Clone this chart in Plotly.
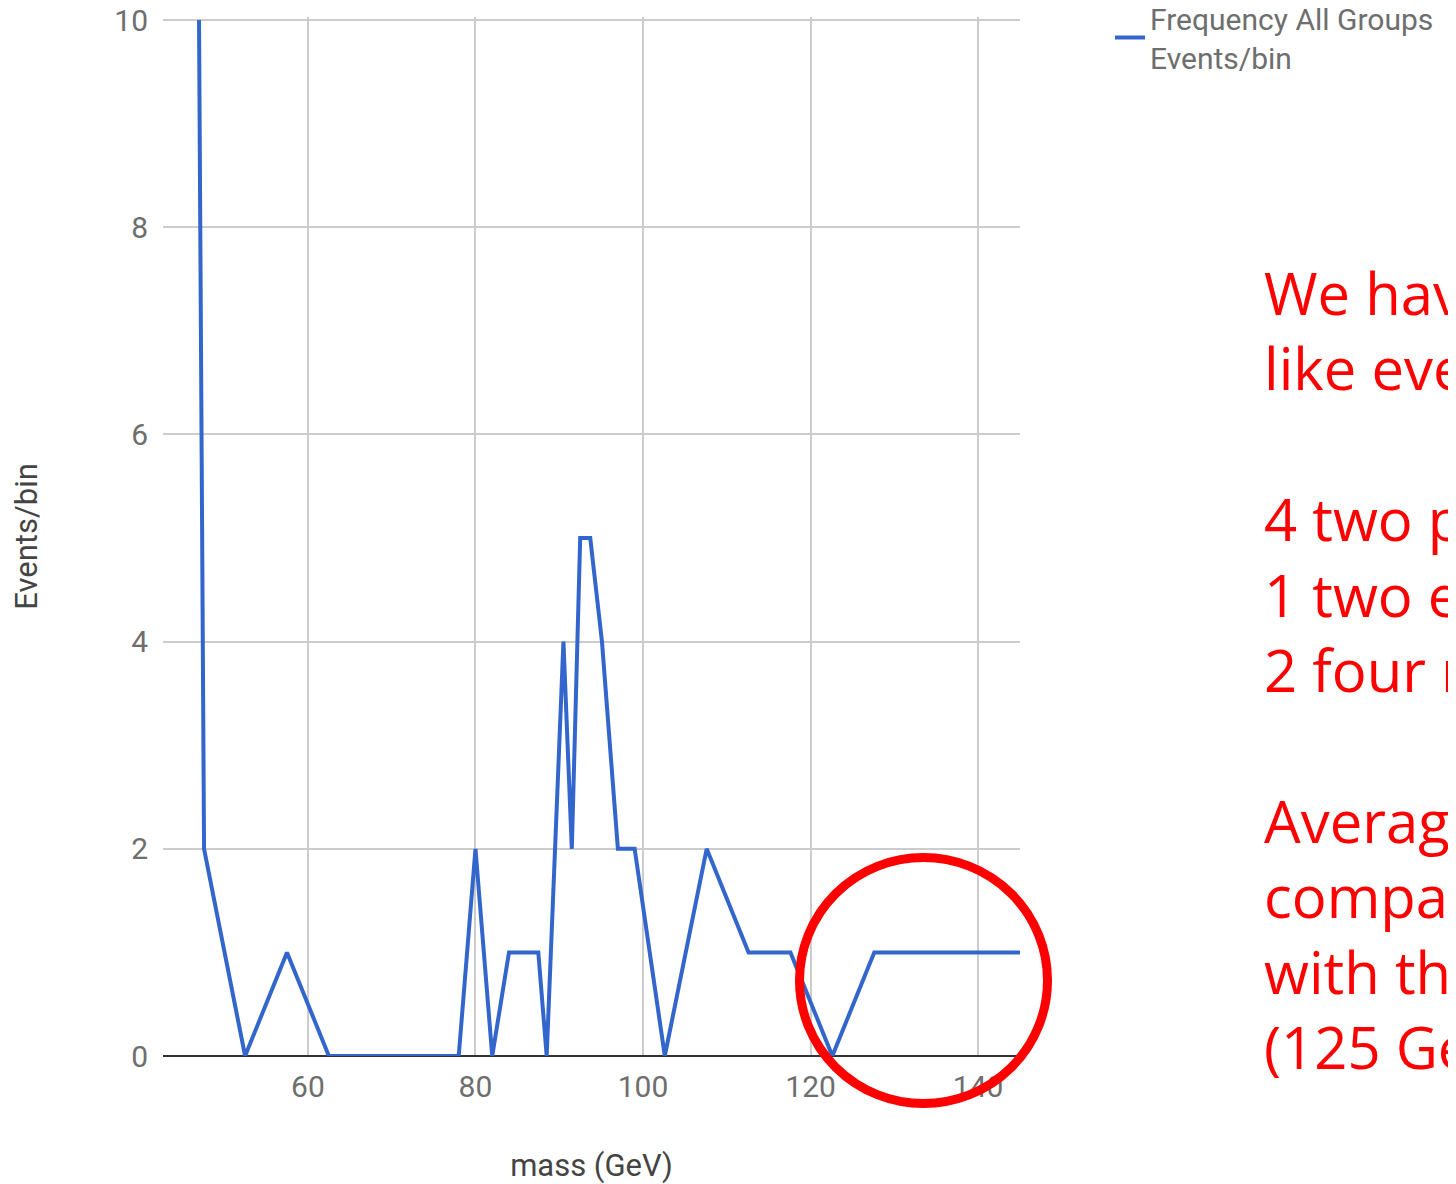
import plotly.graph_objects as go

# Data
mass_gev = [47.0, 47.6, 52.5, 57.5, 62.5, 78.0, 80.0, 82.0, 84.0, 87.5, 88.5,
            90.5, 91.5, 92.5, 93.7, 95.1, 97.0, 99.0, 102.6, 107.6, 112.6,
            117.6, 122.6, 127.6, 145.0]
events_per_bin = [10, 2, 0, 1, 0, 0, 2, 0, 1, 1, 0,
                  4, 2, 5, 5, 4, 2, 2, 0, 2, 1,
                  1, 0, 1, 1]
x_ticks = [60, 80, 100, 120, 140]
y_ticks = [0, 2, 4, 6, 8, 10]

series_name = "Frequency All Groups<br>Events/bin"
note_lines = [
    "We have 7 Higgs-",
    "like events:",
    " ",
    "4 two photons",
    "1 two electrons two muons",
    "2 four muons",
    " ",
    "Average mass",
    "compatible",
    "with the Higgs",
    "(125 GeV)",
]

OFF = 8  # page body margin
W, H = 1456 - OFF, 1184 - OFF
# plot area in screen pixels: x 163..1020, y 17..1056 (value 10 sits at y=20)
L, T = 163 - OFF, 17 - OFF
R = W - (1020 - OFF)
B = H - (1056 - OFF)
pw, ph = W - L - R, H - T - B
y_top = 10 * ph / 1036.0

def px_x(sx):
    return (sx - OFF - L) / pw

def px_y(sy):
    return (H - B - (sy - OFF)) / ph

fig = go.Figure()
fig.add_trace(go.Scatter(
    x=mass_gev, y=events_per_bin, mode="lines", name=series_name,
    line=dict(color="#3366cc", width=4), cliponaxis=False,
))

fig.update_layout(
    width=W, height=H,
    margin=dict(l=L, r=R, t=T, b=B, autoexpand=False),
    paper_bgcolor="white", plot_bgcolor="white",
    font=dict(family="Roboto", size=30, color="#666666"),
    showlegend=True,
    legend=dict(
        x=px_x(1110), y=px_y(-8), xanchor="left", yanchor="top",
        font=dict(family="Roboto", size=30, color="#6e6e6e"),
        bgcolor="rgba(0,0,0,0)", itemwidth=30, tracegroupgap=0,
    ),
    xaxis=dict(
        range=[42.7, 145.0], tickvals=x_ticks, ticks="",
        showgrid=True, gridcolor="#cccccc", gridwidth=2,
        zeroline=False, showline=False, ticklabelstandoff=10,
        ticklabeloverflow="allow",
        tickfont=dict(size=30, color="#6e6e6e"),
        title=dict(text="mass (GeV)", font=dict(size=31, color="#444444"), standoff=52),
    ),
    yaxis=dict(
        range=[0, y_top], tickvals=y_ticks, ticks="",
        showgrid=True, gridcolor="#cccccc", gridwidth=2,
        zeroline=True, zerolinecolor="#333333", zerolinewidth=2,
        showline=False, ticklabelstandoff=14,
        ticklabeloverflow="allow",
        tickfont=dict(size=30, color="#6e6e6e"),
        title=dict(text="Events/bin", font=dict(size=31, color="#444444"), standoff=79),
    ),
)

fig.add_annotation(
    xref="paper", yref="paper", x=px_x(1262), y=px_y(251),
    xanchor="left", yanchor="top", align="left", showarrow=False,
    text="<br>".join(note_lines),
    font=dict(family="Open Sans", size=58, color="#ff0000"),
)

fig.add_shape(
    type="circle", xref="paper", yref="paper",
    x0=px_x(799.5), x1=px_x(1047.5), y0=px_y(1103.5), y1=px_y(857.5),
    line=dict(color="#ff0000", width=9), layer="above",
)

fig.write_html("out.html")
